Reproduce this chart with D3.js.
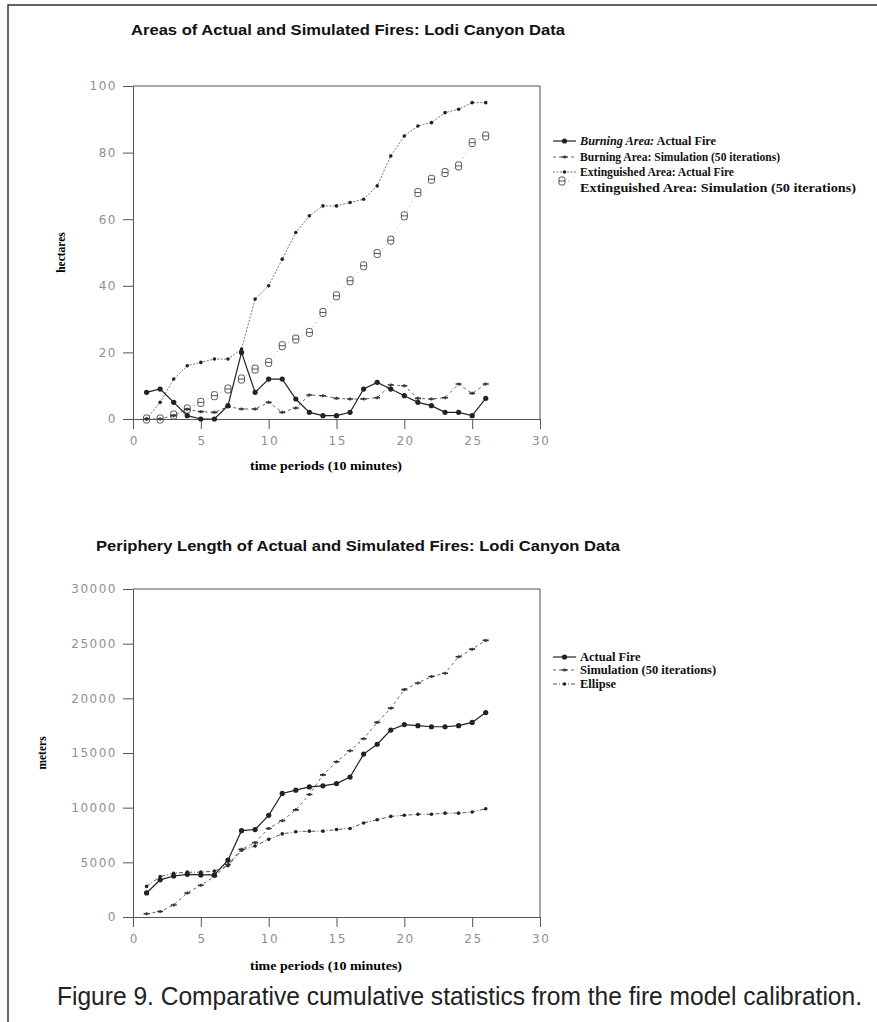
<!DOCTYPE html>
<html>
<head>
<meta charset="utf-8">
<script src="https://cdn.jsdelivr.net/npm/d3@7"></script>
<style>
  body { margin: 0; background: #fff; }
  svg { display: block; }
</style>
</head>
<body>
<div id="chart"></div>
<script>
// time periods (10 minutes)
const periods = d3.range(1, 27);

// top chart: areas (hectares)
const burningActual = [8, 9, 5, 1, 0, 0, 4, 20, 8, 12, 12, 6, 2, 1, 1, 2, 9, 11, 9, 7, 5, 4, 2, 2, 1, 6.2];
const burningSim = [0, 0, 1, 2.9, 2.2, 2, 3.7, 3, 3, 5, 2, 3.3, 7.2, 7, 6.2, 6, 6, 6.4, 10.2, 10, 6.2, 6, 6.4, 10.5, 7.7, 10.5];
const extinguishedActual = [0, 5, 12, 16, 17, 18, 18, 21, 36, 40, 48, 56, 61, 64, 64, 65, 66, 70, 79, 85, 88, 89, 92, 93, 95, 95];
const extinguishedSim = [0, 0, 1.2, 3, 5, 7, 9, 12, 15, 17, 22, 24, 26, 32, 37, 41.5, 46, 49.7, 53.7, 61, 68, 72, 74, 76, 83, 85];

// bottom chart: periphery (meters)
const peripheryActual = [2200, 3400, 3750, 3900, 3850, 3850, 5200, 7900, 8000, 9300, 11300, 11600, 11900, 12000, 12200, 12800, 14900, 15800, 17100, 17600, 17500, 17400, 17400, 17500, 17800, 18700];
const peripherySim = [300, 500, 1100, 2200, 2900, 3700, 4800, 6200, 6800, 8100, 8800, 9800, 11200, 13000, 14200, 15200, 16300, 17800, 19100, 20800, 21400, 22000, 22300, 23800, 24500, 25300];
const peripheryEllipse = [2800, 3700, 4000, 4100, 4100, 4200, 4700, 6100, 6500, 7100, 7600, 7800, 7850, 7850, 8000, 8100, 8600, 8900, 9200, 9300, 9400, 9400, 9500, 9500, 9600, 9900];

const xTicks = [0, 5, 10, 15, 20, 25, 30];
const areaTicks = [0, 20, 40, 60, 80, 100];
const periTicks = [0, 5000, 10000, 15000, 20000, 25000, 30000];

const topLegend = [
  { lead: "Burning Area:", rest: " Actual Fire" },
  { lead: "", rest: "Burning Area: Simulation (50 iterations)" },
  { lead: "", rest: "Extinguished Area: Actual Fire" },
  { lead: "", rest: "Extinguished Area: Simulation (50 iterations)" }
];
const bottomLegend = ["Actual Fire", "Simulation (50 iterations)", "Ellipse"];

const W = 877, H = 1022;
const svg = d3.select("#chart").append("svg").attr("width", W).attr("height", H);

// page frame
svg.append("path").attr("d", "M8,1022 V5 H877").attr("fill", "none").attr("stroke", "#333").attr("stroke-width", 1.5);

const tickFont = "'DejaVu Sans', sans-serif";
const serif = "'Liberation Serif', 'Times New Roman', serif";
const narrow = "'Liberation Sans Narrow', 'Liberation Sans', Arial, sans-serif";

const xScale = d3.scaleLinear().domain([0, 30]).range([133, 540]);
const yTop = d3.scaleLinear().domain([0, 100]).range([419, 86]);
const yBot = d3.scaleLinear().domain([0, 30000]).range([917, 589]);

function drawFrame(y, yTicks, yTitle, yTitleX, xTitleY) {
  const g = svg.append("g");
  const x = xScale;
  const ya = g.append("g").attr("transform", `translate(${x(0)},0)`)
    .call(d3.axisLeft(y).tickValues(yTicks).tickFormat(d3.format("d")).tickSize(10).tickSizeOuter(0).tickPadding(6));
  const xa = g.append("g").attr("transform", `translate(0,${y(0)})`)
    .call(d3.axisBottom(x).tickValues(xTicks).tickSize(10).tickSizeOuter(0).tickPadding(7));
  [ya, xa].forEach(a => {
    a.selectAll("path, line").attr("stroke", "#555").attr("stroke-width", 1);
    a.selectAll("text").attr("fill", "#909090").style("font-family", tickFont)
      .style("font-size", "12px").style("letter-spacing", "1.5px");
  });
  xa.selectAll("text").attr("dx", "0.75px");
  // top and right border
  g.append("path")
    .attr("d", `M${x(0)},${y.range()[1]} H${x(30)} V${y(0)}`)
    .attr("fill", "none").attr("stroke", "#555");
  g.append("text").attr("transform", `translate(${yTitleX},${(y.range()[0] + y.range()[1]) / 2}) rotate(-90)`)
    .attr("text-anchor", "middle").attr("dy", "0.35em")
    .style("font-family", serif).style("font-weight", "bold").style("font-size", "11.5px")
    .text(yTitle);
  g.append("text").attr("x", 326).attr("y", xTitleY).attr("text-anchor", "middle")
    .attr("textLength", 152).attr("lengthAdjust", "spacingAndGlyphs")
    .style("font-family", serif).style("font-weight", "bold").style("font-size", "11.5px")
    .text("time periods (10 minutes)");
}

// titles
svg.append("text").attr("x", 131).attr("y", 35)
  .attr("textLength", 434).attr("lengthAdjust", "spacingAndGlyphs")
  .style("font-family", narrow).style("font-weight", "bold").style("font-size", "15px")
  .attr("fill", "#111")
  .text("Areas of Actual and Simulated Fires: Lodi Canyon Data");
svg.append("text").attr("x", 96).attr("y", 551)
  .attr("textLength", 524).attr("lengthAdjust", "spacingAndGlyphs")
  .style("font-family", narrow).style("font-weight", "bold").style("font-size", "15px")
  .attr("fill", "#111")
  .text("Periphery Length of Actual and Simulated Fires: Lodi Canyon Data");
svg.append("text").attr("x", 57).attr("y", 1005)
  .attr("textLength", 805).attr("lengthAdjust", "spacingAndGlyphs")
  .style("font-family", narrow).style("font-size", "25px")
  .attr("fill", "#222")
  .text("Figure 9. Comparative cumulative statistics from the fire model calibration.");

drawFrame(yTop, areaTicks, "hectares", 61, 470);
drawFrame(yBot, periTicks, "meters", 42, 970);

// marker helpers
function dotMarker(g, pts, r) {
  g.selectAll(null).data(pts).join("circle")
    .attr("cx", d => d[0]).attr("cy", d => d[1]).attr("r", r).attr("fill", "#222");
}
function plusMarker(g, pts) {
  g.selectAll(null).data(pts).join("path")
    .attr("d", d => `M${d[0] - 3},${d[1]} H${d[0] + 3} M${d[0]},${d[1] - 1.5} V${d[1] + 1.5}`)
    .attr("stroke", "#333").attr("stroke-width", 1.6);
}
function dMarker(g, pts) {
  g.selectAll(null).data(pts).join("g")
    .attr("transform", d => `translate(${d[0]},${d[1]})`)
    .each(function () {
      const m = d3.select(this);
      m.append("rect").attr("x", -3).attr("y", -4).attr("width", 6).attr("height", 8).attr("rx", 2)
        .attr("fill", "#fff").attr("stroke", "#555").attr("stroke-width", 1);
      m.append("line").attr("x1", -3).attr("x2", 3).attr("y1", 0).attr("y2", 0).attr("stroke", "#555");
    });
}

function series(y, vals, opts) {
  const pts = periods.map((p, i) => [xScale(p), y(vals[i])]);
  const g = svg.append("g");
  g.append("path").attr("d", d3.line()(pts)).attr("fill", "none")
    .attr("stroke", opts.color).attr("stroke-width", opts.width)
    .attr("stroke-dasharray", opts.dash || null);
  if (opts.marker === "dot") dotMarker(g, pts, opts.r);
  if (opts.marker === "plus") plusMarker(g, pts);
  if (opts.marker === "D") dMarker(g, pts);
}

const styles = {
  solid: { color: "#222", width: 1.2, marker: "dot", r: 2.6 },
  simDash: { color: "#666", width: 1, dash: "3,3", marker: "plus" },
  extActual: { color: "#777", width: 1, dash: "2,1.5", marker: "dot", r: 1.8 },
  extSim: { color: "#aaa", width: 1, dash: "1,4", marker: "D" },
  ellipse: { color: "#555", width: 1, dash: "4,2,1,2", marker: "dot", r: 1.8 }
};

series(yTop, extinguishedSim, styles.extSim);
series(yTop, extinguishedActual, styles.extActual);
series(yTop, burningSim, styles.simDash);
series(yTop, burningActual, styles.solid);

series(yBot, peripheryEllipse, styles.ellipse);
series(yBot, peripherySim, styles.simDash);
series(yBot, peripheryActual, styles.solid);

// legends
function legendSymbol(yc, st, x0 = 553, x1 = 576) {
  const g = svg.append("g");
  g.append("line").attr("x1", x0).attr("x2", x1).attr("y1", yc).attr("y2", yc)
    .attr("stroke", st.color).attr("stroke-width", st.width).attr("stroke-dasharray", st.dash || null);
  const pts = [[(x0 + x1) / 2, yc]];
  if (st.marker === "dot") dotMarker(g, pts, st.r);
  if (st.marker === "plus") plusMarker(g, pts);
  if (st.marker === "D") dMarker(g, pts);
}

const topRows = [141, 157, 172, 188];
const topWidths = [136, 200, 154, 276];
const topStyles = [styles.solid, styles.simDash, styles.extActual, styles.extSim];
topLegend.forEach((d, i) => {
  legendSymbol(i === 3 ? topRows[i] - 7 : topRows[i], topStyles[i], 553, i === 3 ? 571 : 576);
  const t = svg.append("text").attr("x", 580).attr("y", topRows[i]).attr("dy", "0.35em")
    .attr("textLength", topWidths[i]).attr("lengthAdjust", "spacingAndGlyphs")
    .style("font-family", serif).style("font-weight", "bold")
    .style("font-size", "12px").attr("fill", "#111");
  if (d.lead) t.append("tspan").style("font-style", "italic").text(d.lead);
  t.append("tspan").text(d.rest);
});

const botRows = [657, 670, 684];
const botStyles = [styles.solid, styles.simDash, styles.ellipse];
bottomLegend.forEach((d, i) => {
  legendSymbol(botRows[i], botStyles[i]);
  svg.append("text").attr("x", 580).attr("y", botRows[i]).attr("dy", "0.35em")
    .style("font-family", serif).style("font-weight", "bold").style("font-size", "12.5px").attr("fill", "#111")
    .text(d);
});
</script>
</body>
</html>
